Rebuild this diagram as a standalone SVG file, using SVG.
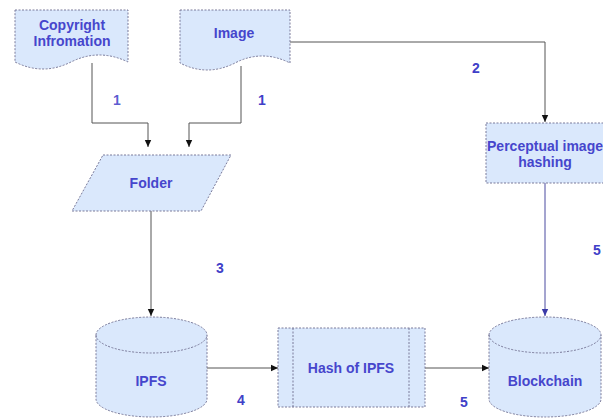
<svg xmlns="http://www.w3.org/2000/svg" width="603" height="419" viewBox="0 0 603 419">
<defs>
<style>
.shape{fill:#dae8fc;stroke:#7a7a9a;stroke-width:1;stroke-dasharray:2 1.5}
.inner{fill:none;stroke:#7a7a9a;stroke-width:1;stroke-dasharray:2 1.5}
.t{font-family:"Liberation Sans",Arial,sans-serif;font-weight:bold;font-size:14px;fill:#4646cc;text-anchor:middle}
.lbl{font-family:"Liberation Sans",Arial,sans-serif;font-weight:bold;font-size:14px;fill:#4040c8;text-anchor:middle}
.c{fill:none;stroke:#555;stroke-width:1}
.cb{fill:none;stroke:#4a4aa0;stroke-width:1}
</style>
<marker id="ah" viewBox="0 0 8 8" refX="7" refY="4" markerWidth="8" markerHeight="8" markerUnits="userSpaceOnUse" orient="auto">
<path d="M0,0.8 L7,4 L0,7.2 Z" fill="#111"/>
</marker>
<marker id="ahb" viewBox="0 0 8 8" refX="7" refY="4" markerWidth="8" markerHeight="8" markerUnits="userSpaceOnUse" orient="auto">
<path d="M0,0.8 L7,4 L0,7.2 Z" fill="#3a3aa8"/>
</marker>
</defs>
<rect width="603" height="419" fill="#fff"/>

<g id="connectors">
<path class="c" d="M92,63 V123 H148 V147" marker-end="url(#ah)"/>
<path class="c" d="M241,66 V123 H189 V147" marker-end="url(#ah)"/>
<path class="c" d="M290,42 H545 V122" marker-end="url(#ah)"/>
<path class="c" d="M151,211 V316" marker-end="url(#ah)"/>
<path class="cb" d="M545,183 V316" marker-end="url(#ahb)"/>
<path class="c" d="M207,368 H278" marker-end="url(#ah)"/>
<path class="c" d="M425,368 H489" marker-end="url(#ah)"/>
<text class="lbl" x="117" y="105" fill-opacity="0.85">1</text>
<text class="lbl" x="262" y="105">1</text>
<text class="lbl" x="476" y="73">2</text>
<text class="lbl" x="220" y="273">3</text>
<text class="lbl" x="241" y="405">4</text>
<text class="lbl" x="464" y="407">5</text>
<text class="lbl" x="597" y="255">5</text>
</g>

<g id="copyright">
<path class="shape" d="M15,10 H128 V62 Q99,48 71,62 Q43,76 15,62 Z"/>
<text class="t" x="72" y="30">Copyright</text>
<text class="t" x="72" y="46">Infromation</text>
</g>

<g id="image">
<path class="shape" d="M180,10 H290 V63 Q262,49 235,63 Q207,77 180,63 Z"/>
<text class="t" x="234" y="38">Image</text>
</g>

<g id="perceptual">
<rect class="shape" x="486" y="123" width="120" height="60"/>
<text class="t" x="545" y="151">Perceptual image</text>
<text class="t" x="545" y="167">hashing</text>
</g>

<g id="folder">
<path class="shape" d="M103,155 H231 L201,211 H72 Z"/>
<text class="t" x="151" y="188">Folder</text>
</g>

<g id="ipfs">
<path class="shape" d="M96,335 A55.5,18 0 0 1 207,335 V399 A55.5,18 0 0 1 96,399 Z"/>
<path class="inner" d="M96,335 A55.5,18 0 0 0 207,335"/>
<text class="t" x="151" y="386">IPFS</text>
</g>

<g id="hash">
<rect class="shape" x="278" y="328" width="147" height="79"/>
<line class="inner" x1="293" y1="328" x2="293" y2="407"/>
<line class="inner" x1="409" y1="328" x2="409" y2="407"/>
<text class="t" x="351" y="373">Hash of IPFS</text>
</g>

<g id="blockchain">
<path class="shape" d="M489,335 A56,18 0 0 1 601,335 V399 A56,18 0 0 1 489,399 Z"/>
<path class="inner" d="M489,335 A56,18 0 0 0 601,335"/>
<text class="t" x="545" y="386">Blockchain</text>
</g>
</svg>
